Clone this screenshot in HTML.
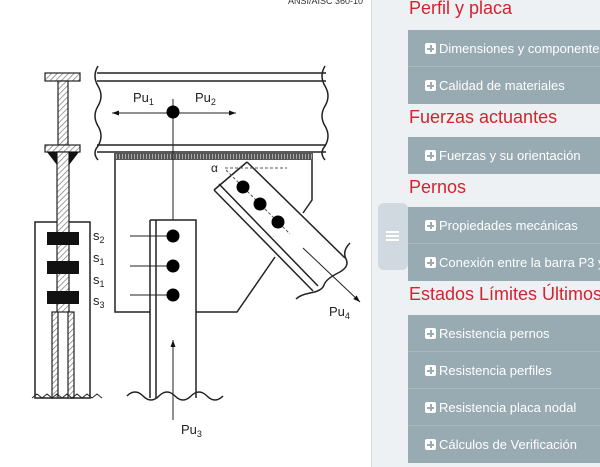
<!DOCTYPE html>
<html><head><style>
body{margin:0;width:600px;height:467px;overflow:hidden;background:#fff;font-family:"Liberation Sans",sans-serif;position:relative}
#side{position:absolute;left:371px;top:0;width:229px;height:467px;background:#eef1f4;border-left:1px solid #d5dadd}
.h{position:absolute;left:37px;color:#d2232f;font-size:18px;white-space:nowrap}
.box{position:absolute;left:36px;width:200px;background:#98aab2}
.it{height:37px;line-height:37px;color:#fff;font-size:13px;white-space:nowrap;padding-left:17px;border-bottom:1px solid #a9b8bf;box-sizing:border-box}
.it:last-child{border-bottom:none}
.p{display:inline-block;width:11px;height:11px;background:#fff;border-radius:2px;position:relative;vertical-align:-1px;margin-right:3px}
.p:before{content:"";position:absolute;left:2px;top:4.5px;width:7px;height:2px;background:#98aab2}
.p:after{content:"";position:absolute;left:4.5px;top:2px;width:2px;height:7px;background:#98aab2}
#tab{position:absolute;left:6px;top:203px;width:30px;height:67px;background:#cfd9df;border-radius:6px}
</style></head><body>
<svg width="371" height="467" style="position:absolute;left:0;top:0" font-family="Liberation Sans,sans-serif">
<defs><pattern id="hh" width="4" height="4" patternUnits="userSpaceOnUse" patternTransform="rotate(45)"><rect width="4" height="4" fill="#fff"/><line x1="0" y1="0" x2="0" y2="4" stroke="#777" stroke-width="1.4"/></pattern>
<pattern id="wd" width="3" height="7" patternUnits="userSpaceOnUse"><rect width="3" height="7" fill="#555"/><rect x="2" width="1" height="5" fill="#aaa"/></pattern>
<marker id="ar" markerWidth="8" markerHeight="8" refX="7" refY="4" orient="auto"><path d="M0,1.5 L7,4 L0,6.5z" fill="#111"/></marker></defs>
<text x="288" y="4" font-size="9" fill="#333">ANSI/AISC 360-10</text>
<g stroke="#222" stroke-width="1.5" fill="none">
<line x1="97" y1="73" x2="326" y2="73"/><line x1="97" y1="81" x2="326" y2="81"/>
<line x1="97" y1="145" x2="326" y2="145"/><line x1="97" y1="152" x2="326" y2="152"/>
<path d="M98,66 q-6,10 0,20 q6,10 0,20 q-6,10 0,20 q6,10 0,20 q-6,7 0,14"/>
<path d="M325,66 q-6,10 0,20 q6,10 0,20 q-6,10 0,20 q6,10 0,20 q-6,7 0,14"/>
<path d="M115,155 V312 H150 M196,312 H237 L275,257 M312,158 V200 L303,213"/>
<path d="M150,220 H196 V398 M150,220 V398 M156,220 V398"/>
<path d="M127,396 q8,-8 16,0 q8,8 16,0 q8,-8 16,0 q8,8 16,0 q8,-8 16,0 q8,8 16,0"/>
<path d="M247,162 L345,258 M214,190 L313,291 M247,162 L214,190 M219,184 L318,286"/>
<path d="M350,243 q-8,8 -4,16 q4,8 -8,14 q-12,6 -14,12 q-2,6 -14,8 q-10,2 -14,6"/>
<rect x="35" y="222" width="55" height="176"/>
</g>
<rect x="114" y="153" width="199" height="7" fill="url(#wd)"/>
<g stroke="#555" stroke-width="1" stroke-dasharray="3,2" fill="none"><line x1="225" y1="168" x2="287" y2="168"/><line x1="226" y1="170" x2="290" y2="234"/></g>
<text x="211" y="172" font-size="12" fill="#222">α</text>
<g stroke="#222" stroke-width="1">
<line x1="173" y1="99" x2="173" y2="220"/>
<line x1="173" y1="113" x2="112" y2="113" marker-end="url(#ar)"/>
<line x1="173" y1="113" x2="236" y2="113" marker-end="url(#ar)"/>
<line x1="173" y1="420" x2="173" y2="340" marker-end="url(#ar)"/>
<line x1="303" y1="248" x2="360" y2="302" marker-end="url(#ar)"/>
<line x1="130" y1="236" x2="173" y2="236"/><line x1="130" y1="266" x2="173" y2="266"/><line x1="130" y1="295" x2="173" y2="295"/>
</g>
<g fill="#000"><circle cx="173" cy="112" r="6.5"/><circle cx="173" cy="236" r="6.5"/><circle cx="173" cy="266" r="6.5"/><circle cx="173" cy="295" r="6.5"/>
<circle cx="243" cy="187" r="6.5"/><circle cx="260" cy="204" r="6.5"/><circle cx="278" cy="222" r="6.5"/></g>
<g font-size="13" fill="#222">
<text x="133" y="102">Pu<tspan font-size="9" dy="3">1</tspan></text>
<text x="195" y="102">Pu<tspan font-size="9" dy="3">2</tspan></text>
<text x="181" y="434">Pu<tspan font-size="9" dy="3">3</tspan></text>
<text x="329" y="316">Pu<tspan font-size="9" dy="3">4</tspan></text>
<text x="93" y="240">s<tspan font-size="9" dy="3">2</tspan></text>
<text x="93" y="262">s<tspan font-size="9" dy="3">1</tspan></text>
<text x="93" y="284">s<tspan font-size="9" dy="3">1</tspan></text>
<text x="93" y="305">s<tspan font-size="9" dy="3">3</tspan></text>
</g>
<g stroke="#222" stroke-width="1.2" fill="url(#hh)">
<rect x="45" y="73" width="35" height="8"/><rect x="58" y="81" width="10" height="64"/><rect x="45" y="145" width="35" height="7"/>
<rect x="57" y="152" width="12" height="160"/>
<rect x="52" y="312" width="6" height="86"/><rect x="68" y="312" width="6" height="86"/>
</g>
<path d="M47,152 L57,152 L57,165z M79,152 L69,152 L69,165z" fill="#111"/>
<g fill="#111"><rect x="47" y="232" width="32" height="13"/><rect x="47" y="261" width="32" height="13"/><rect x="47" y="291" width="32" height="13"/></g>
<path d="M32,398 l5,-4 5,4 5,-4 5,4 5,-4 5,4 5,-4 5,4 5,-4 5,4 5,-4 5,4 5,-4 5,4" stroke="#222" fill="none" stroke-width="1"/>
</svg>
<div id="side">
<div id="tab"><div style="position:absolute;left:8px;top:28px;width:13px;height:2px;background:#fff;box-shadow:0 4px #fff,0 8px #fff"></div></div>
<div class="h" style="top:-2px">Perfil y placa</div>
<div class="box" style="top:30px"><div class="it"><span class="p"></span>Dimensiones y componentes</div><div class="it"><span class="p"></span>Calidad de materiales</div></div>
<div class="h" style="top:107px">Fuerzas actuantes</div>
<div class="box" style="top:137px"><div class="it"><span class="p"></span>Fuerzas y su orientación</div></div>
<div class="h" style="top:177px">Pernos</div>
<div class="box" style="top:207px"><div class="it"><span class="p"></span>Propiedades mecánicas</div><div class="it"><span class="p"></span>Conexión entre la barra P3 y</div></div>
<div class="h" style="top:284px">Estados Límites Últimos</div>
<div class="box" style="top:315px"><div class="it"><span class="p"></span>Resistencia pernos</div><div class="it"><span class="p"></span>Resistencia perfiles</div><div class="it"><span class="p"></span>Resistencia placa nodal</div><div class="it"><span class="p"></span>Cálculos de Verificación</div></div>
</div>
</body></html>
